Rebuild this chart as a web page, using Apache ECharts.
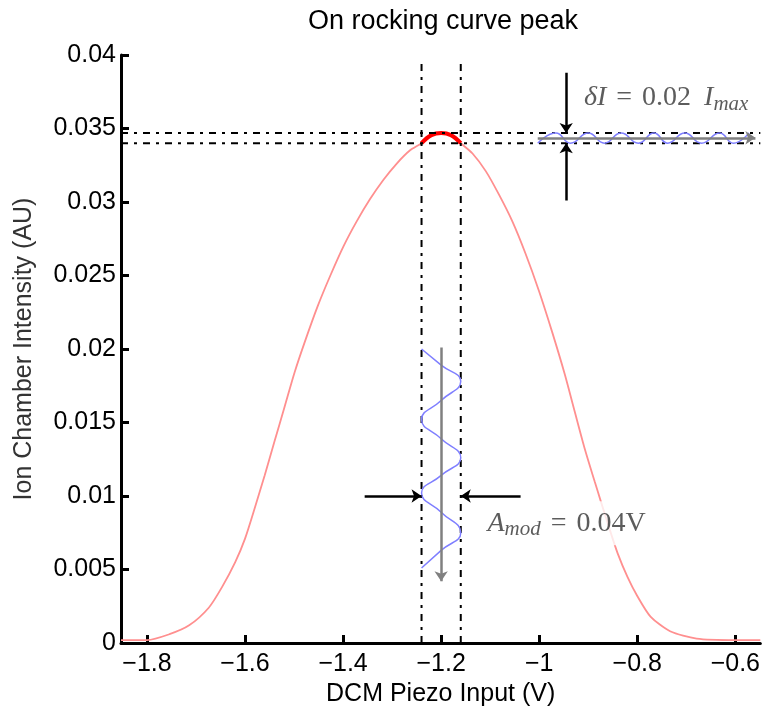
<!DOCTYPE html>
<html>
<head>
<meta charset="utf-8">
<script src="https://cdn.jsdelivr.net/npm/echarts@6/dist/echarts.min.js"></script>
<style>
  html, body { margin: 0; padding: 0; background: #fff; }
  #chart { width: 763px; height: 712px; }
</style>
</head>
<body>
<div id="chart"></div>
<script>
// axis ticks
const xTicks = [-1.8, -1.6, -1.4, -1.2, -1.0, -0.8, -0.6];

// rocking curve
const curveX = [-1.853, -1.8, -1.754, -1.714, -1.674, -1.647, -1.62, -1.6, -1.58, -1.56, -1.54, -1.519, -1.499,
  -1.479, -1.452, -1.426, -1.399, -1.372, -1.345, -1.318, -1.291, -1.264, -1.24, -1.22, -1.2, -1.18, -1.16,
  -1.136, -1.109, -1.082, -1.055, -1.028, -1.001, -0.974, -0.948, -0.928, -0.907, -0.887, -0.874, -0.857,
  -0.84, -0.82, -0.8, -0.773, -0.733, -0.679, -0.6, -0.549];
const curveY = [0.0002, 0.0002, 0.0006, 0.0012, 0.0024, 0.0038, 0.0055, 0.0071, 0.0092, 0.0114, 0.0137, 0.0161, 0.0184,
  0.0204, 0.0229, 0.025, 0.027, 0.0287, 0.0302, 0.0315, 0.0326, 0.0335, 0.034, 0.03455, 0.0347, 0.03455, 0.034,
  0.0333, 0.0321, 0.0305, 0.0287, 0.0265, 0.024, 0.0212, 0.0183, 0.0158, 0.0132, 0.011, 0.0096, 0.0078,
  0.0061, 0.0045, 0.0032, 0.0018, 0.0008, 0.0003, 0.0002, 0.0002];

// highlighted part of the peak
const peakX = [-1.24, -1.22, -1.2, -1.18, -1.16];
const peakY = [0.034, 0.03455, 0.0347, 0.03455, 0.034];

// modulation drawn along the intensity axis (bottom)
const modWaveX = [-1.24, -1.2, -1.16, -1.2, -1.24, -1.2, -1.16, -1.2, -1.24, -1.2, -1.16, -1.2, -1.24];
const modWaveY = [0.02, 0.0189, 0.0178, 0.0165, 0.0152, 0.0139, 0.0126, 0.0114, 0.0102, 0.0089, 0.0075, 0.0063, 0.0051];

// response drawn along the time axis (top right)
const respWaveX = [-1.003, -0.966, -0.936, -0.9, -0.867, -0.833, -0.798, -0.766, -0.738, -0.703, -0.669, -0.632, -0.604, -0.572];
const respWaveY = [0.034, 0.0347, 0.034, 0.0347, 0.034, 0.0347, 0.034, 0.0347, 0.034, 0.0347, 0.034, 0.0347, 0.034, 0.0347];

// dash-dot guide lines
const levelY = [0.0347, 0.034];
const windowX = [-1.24, -1.16];
const windowTop = 0.0397;

// arrows [from, to]
const blackArrows = [
  [[-0.945, 0.0388], [-0.945, 0.0347]],
  [[-0.945, 0.0301], [-0.945, 0.034]],
  [[-1.356, 0.01], [-1.24, 0.01]],
  [[-1.038, 0.01], [-1.16, 0.01]],
];
const grayArrows = [
  [[-1.003, 0.03437], [-0.559, 0.03437]],
  [[-1.2, 0.0201], [-1.2, 0.0042]],
];

// text annotations
const deltaLabelPos = [-0.9087, 0.03708];
const ampLabelPos = [-1.1137, 0.00814];

const xMin = -1.853;
const xMax = -0.549;

const pairs = (xs, ys) => xs.map((x, i) => [x, ys[i]]);
const dashDot = [7, 6, 3, 6];

const chart = echarts.init(document.getElementById("chart"));

const series = [];

series.push({
  name: "curve",
  type: "line",
  data: pairs(curveX, curveY),
  smooth: 0.25,
  showSymbol: false,
  lineStyle: { color: "#ff8f8f", width: 1.8 },
  z: 2,
});
series.push({
  name: "peak",
  type: "line",
  data: pairs(peakX, peakY),
  smooth: 0.4,
  showSymbol: false,
  lineStyle: { color: "#ff0000", width: 4 },
  z: 3,
});

levelY.forEach((y) => {
  series.push({
    type: "line",
    data: [[xMin, y], [xMax, y]],
    showSymbol: false,
    lineStyle: { color: "#000", width: 2, type: dashDot },
    z: 4,
  });
});
windowX.forEach((x) => {
  series.push({
    type: "line",
    data: [[x, 0], [x, windowTop]],
    showSymbol: false,
    lineStyle: { color: "#000", width: 2, type: dashDot },
    z: 4,
  });
});

series.push({
  name: "modulation",
  type: "line",
  data: pairs(modWaveX, modWaveY),
  smooth: 0.5,
  showSymbol: false,
  lineStyle: { color: "#7f7fff", width: 1.5 },
  z: 5,
});
series.push({
  name: "response",
  type: "line",
  data: pairs(respWaveX, respWaveY),
  smooth: 0.5,
  showSymbol: false,
  lineStyle: { color: "#7f7fff", width: 1.5 },
  z: 5,
});

series.push({
  type: "lines",
  coordinateSystem: "cartesian2d",
  data: grayArrows.map((c) => ({ coords: c })),
  symbol: ["none", "arrow"],
  symbolSize: 10,
  lineStyle: { color: "#808080", width: 2.5, opacity: 1 },
  z: 6,
});
series.push({
  type: "lines",
  coordinateSystem: "cartesian2d",
  data: blackArrows.map((c) => ({ coords: c })),
  symbol: ["none", "arrow"],
  symbolSize: 10,
  lineStyle: { color: "#000", width: 2.5, opacity: 1 },
  z: 7,
});

const rich = {
  i: { fontFamily: "Liberation Serif", fontStyle: "italic", fontSize: 28, lineHeight: 34, color: "#333" },
  n: { fontFamily: "Liberation Serif", fontSize: 28, lineHeight: 34, color: "#333" },
  eq: { fontFamily: "Liberation Serif", fontSize: 28, lineHeight: 34, color: "#333", padding: [0, 10] },
  sp: { fontFamily: "Liberation Serif", fontSize: 28, lineHeight: 34, color: "#333", padding: [0, 3] },
  sub: { fontFamily: "Liberation Serif", fontStyle: "italic", fontSize: 21, lineHeight: 18, verticalAlign: "bottom", color: "#333" },
};

series.push({
  type: "scatter",
  symbolSize: 0,
  data: [
    {
      value: deltaLabelPos,
      label: { formatter: "{i|δI}{eq|=}{n|0.02}{sp| }{i|I}{sub|max}" },
    },
    {
      value: ampLabelPos,
      label: {
        formatter: "{i|A}{sub|mod}{eq|=}{n|0.04V}",
        backgroundColor: "#fff",
        padding: [5, 4],
      },
    },
  ],
  label: { show: true, position: "right", distance: 0, rich: rich },
  z: 8,
});

chart.setOption({
  animation: false,
  title: {
    text: "On rocking curve peak",
    left: 443,
    textAlign: "center",
    top: 8,
    padding: 0,
    textStyle: { fontFamily: "Liberation Sans", fontSize: 27, fontWeight: "normal", color: "#000" },
  },
  grid: { left: 121, right: 0, top: 55, bottom: 67 },
  xAxis: {
    type: "value",
    min: xMin,
    max: xMax,
    name: "DCM Piezo Input (V)",
    nameLocation: "middle",
    nameGap: 39,
    nameTextStyle: { fontFamily: "Liberation Sans", fontSize: 25, color: "#000" },
    axisLine: { onZero: false, lineStyle: { color: "#000", width: 3 } },
    axisTick: { inside: true, length: 8, customValues: xTicks, lineStyle: { color: "#000", width: 3 } },
    axisLabel: {
      customValues: xTicks,
      margin: 9,
      fontFamily: "Liberation Sans",
      fontSize: 25,
      color: "#000",
      formatter: (v) => (v < 0 ? "\u2212" : "") + String(Math.abs(Number(v.toFixed(2)))),
    },
    splitLine: { show: false },
  },
  yAxis: {
    type: "value",
    min: 0,
    max: 0.04,
    interval: 0.005,
    name: "Ion Chamber Intensity (AU)",
    nameLocation: "middle",
    nameGap: 84,
    nameTextStyle: { fontFamily: "Liberation Sans", fontSize: 25, color: "#333" },
    axisLine: { show: true, onZero: false, lineStyle: { color: "#000", width: 3 } },
    axisTick: { show: true, inside: true, length: 8, lineStyle: { color: "#000", width: 3 } },
    axisLabel: {
      margin: 5,
      fontFamily: "Liberation Sans",
      fontSize: 25,
      color: "#000",
      formatter: (v) => String(Number(v.toFixed(4))),
    },
    splitLine: { show: false },
  },
  series: series,
});
</script>
</body>
</html>
